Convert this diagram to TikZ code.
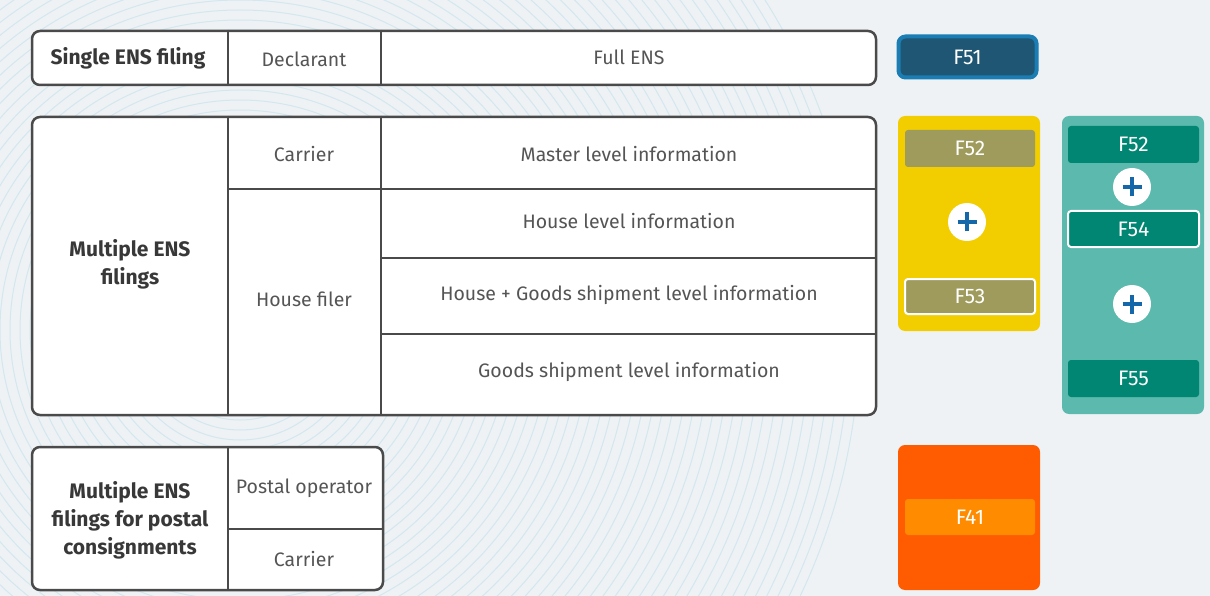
\documentclass[tikz,border=0pt]{standalone}
\usepackage{fontspec}
\setmainfont{Fira Sans}
\usepackage{tikz}
\usetikzlibrary{shapes,calc}
\definecolor{bgpale}{HTML}{EEF2F5}
\definecolor{wave}{HTML}{D3E7EF}
\definecolor{linegray}{HTML}{4A4A4A}
\definecolor{txtgray}{HTML}{555555}
\definecolor{fblue}{HTML}{1A7DB4}
\definecolor{fbluedark}{HTML}{1E5674}
\definecolor{fyellow}{HTML}{F2CE00}
\definecolor{folive}{HTML}{9F9B5C}
\definecolor{ftealpale}{HTML}{5BB9AD}
\definecolor{fteal}{HTML}{008672}
\definecolor{forange}{HTML}{FF5B00}
\definecolor{forangelight}{HTML}{FF8C00}
\definecolor{plusblue}{HTML}{1467A8}
\tikzstyle{frame} = [rectangle, draw=linegray, line width=2.5pt, fill=white, rounded corners=8pt, inner sep=0pt]
\tikzstyle{divider} = [draw=linegray, line width=2.5pt]
\tikzstyle{lbl} = [text=txtgray, font=\fontsize{19.5}{22}\selectfont, align=center]
\tikzstyle{head} = [text=black!78, font=\fontsize{21}{28}\selectfont\bfseries, align=center]
\tikzstyle{panel} = [rectangle, rounded corners=7pt, inner sep=0pt]
\tikzstyle{tag} = [rectangle, rounded corners=3pt, minimum width=130pt, minimum height=37pt, text=white, font=\fontsize{21}{24}\selectfont, inner sep=0pt]
\tikzstyle{plus} = [circle, fill=white, minimum size=38pt, inner sep=0pt,
  path picture={
    \draw[plusblue, line width=3.6pt] ([xshift=-9.5pt]path picture bounding box.center) -- ([xshift=9.5pt]path picture bounding box.center);
    \draw[plusblue, line width=3.6pt] ([yshift=-9.5pt]path picture bounding box.center) -- ([yshift=9.5pt]path picture bounding box.center);
  }]

\begin{document}
\begin{tikzpicture}[x=1pt, y=-1pt]
  \useasboundingbox (0,0) rectangle (1210,596);
  \fill[bgpale] (0,0) rectangle (1210,596);
  % faint waves behind the tables
  \begin{scope}
    \clip (0,0) rectangle (1210,596);
    \foreach \r in {20,30,...,620}
      \draw[wave, line width=1pt] (240,330) circle (\r);
  \end{scope}

  % single ENS filing
  \node [frame, minimum width=844pt, minimum height=54pt] at (454,58) (single) {};
  \path [divider] (single.north -| 228,0) -- (single.south -| 228,0);
  \path [divider] (single.north -| 381,0) -- (single.south -| 381,0);
  \node [head] at (128,58) (singlehead) {Single ENS filing};
  \node [lbl] at (304,59) (declarant) {Declarant};
  \node [lbl] at (629,57) (fullens) {Full ENS};

  % multiple ENS filings
  \node [frame, minimum width=844pt, minimum height=298pt] at (454,266) (multi) {};
  \path [divider] (multi.north -| 228,0) -- (multi.south -| 228,0);
  \path [divider] (multi.north -| 381,0) -- (multi.south -| 381,0);
  \path [divider] (228,189) -- (multi.east |- 0,189);
  \path [divider] (381,258) -- (multi.east |- 0,258);
  \path [divider] (381,334) -- (multi.east |- 0,334);
  \node [head] at (130,264) (multihead) {Multiple ENS\\filings};
  \node [lbl] at (304,154) (carrier) {Carrier};
  \node [lbl] at (304,299) (housefiler) {House filer};
  \node [lbl] at (629,154) (master) {Master level information};
  \node [lbl] at (629,221) (house) {House level information};
  \node [lbl] at (629,295) (housegoods) {House + Goods shipment level information};
  \node [lbl] at (629,372) (goods) {Goods shipment level information};

  % postal consignments
  \node [frame, minimum width=351pt, minimum height=143pt] at (207.5,518.5) (postal) {};
  \path [divider] (postal.north -| 228,0) -- (postal.south -| 228,0);
  \path [divider] (228,529) -- (postal.east |- 0,529);
  \node [head] at (130,520) (postalhead) {Multiple ENS\\filings for postal\\consignments};
  \node [lbl] at (304,488) (postalop) {Postal operator};
  \node [lbl] at (304,559) (carrierb) {Carrier};

  % F51
  \node [panel, fill=fbluedark, draw=fblue, line width=4pt, minimum width=138pt, minimum height=41pt, text=white, font=\fontsize{21}{24}\selectfont] at (967.5,57) (fiftyone) {F51};

  % F52 + F53
  \node [panel, fill=fyellow, minimum width=142pt, minimum height=215pt] at (969,223.5) (yellowset) {};
  \node [tag, fill=folive] at (970,148.5) (fiftytwoa) {F52};
  \node [plus] at (967,222) (plusa) {};
  \node [tag, fill=folive, draw=white, line width=2pt, minimum height=35pt] at (970,296.5) (fiftythree) {F53};

  % F52 + F54 + F55
  \node [panel, fill=ftealpale, minimum width=142pt, minimum height=298pt] at (1133,265) (tealset) {};
  \node [tag, fill=fteal, minimum width=131pt] at (1133.5,144.5) (fiftytwob) {F52};
  \node [plus] at (1132,187) (plusb) {};
  \node [tag, fill=fteal, draw=white, line width=2pt, minimum width=131pt, minimum height=36pt] at (1133.5,229) (fiftyfour) {F54};
  \node [plus] at (1132,304) (plusc) {};
  \node [tag, fill=fteal, minimum width=131pt] at (1133.5,378.5) (fiftyfive) {F55};

  % F41
  \node [panel, fill=forange, minimum width=142pt, minimum height=145pt] at (969,517.5) (orangeset) {};
  \node [tag, fill=forangelight, minimum height=36pt] at (970,517) (fortyone) {F41};
\end{tikzpicture}
\end{document}
